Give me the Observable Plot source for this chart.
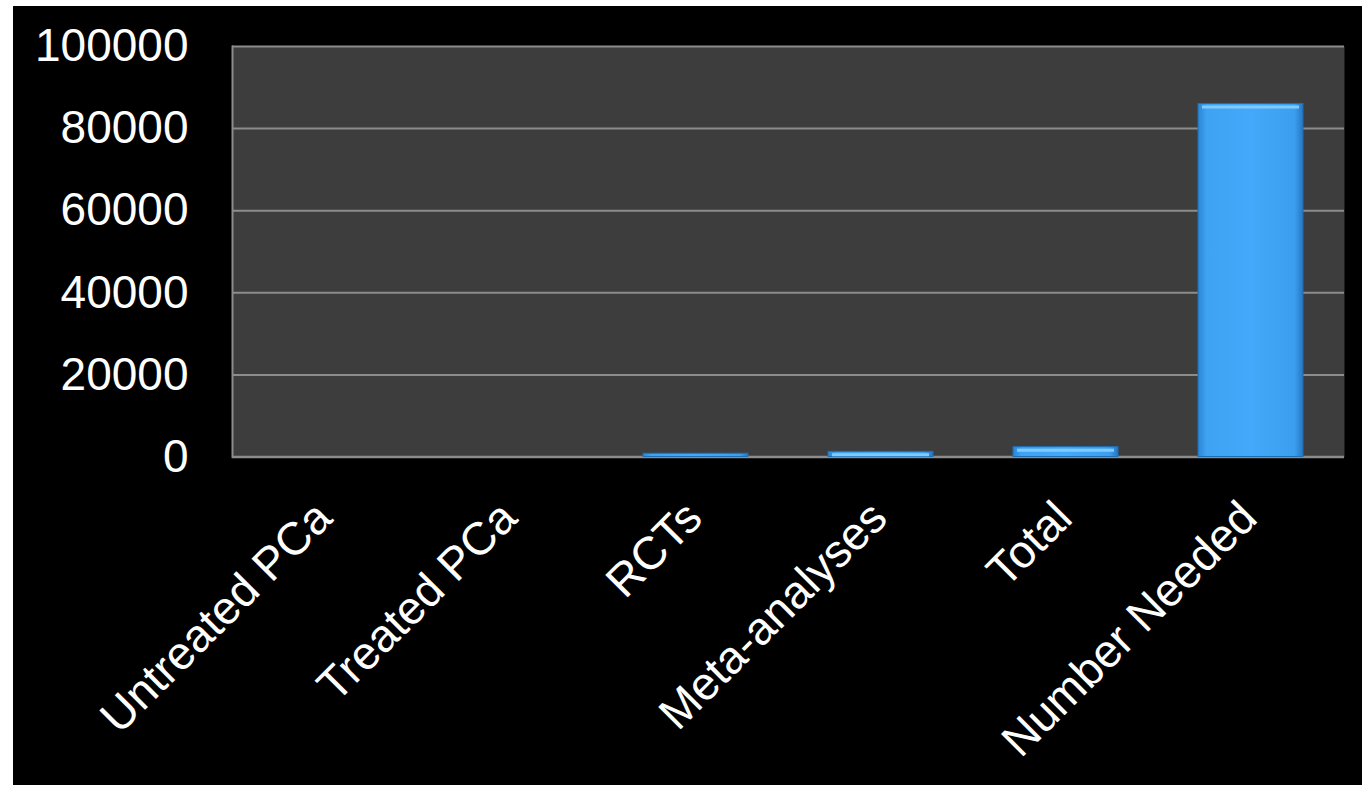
<!DOCTYPE html>
<html>
<head>
<meta charset="utf-8">
<script src="https://cdn.jsdelivr.net/npm/d3@7"></script>
<script src="https://cdn.jsdelivr.net/npm/@observablehq/plot@0.6"></script>
<style>
  html, body { margin: 0; padding: 0; background: #ffffff; }
  #chart { position: absolute; left: 13px; top: 6px; }
  #chart svg { display: block; background: #000000; }
</style>
</head>
<body>
<div id="chart"></div>
<script>
const categories = ["Untreated PCa", "Treated PCa", "RCTs", "Meta-analyses", "Total", "Number Needed"];
const values = [0, 0, 800, 1250, 2400, 86000];
const yTicks = [0, 20000, 40000, 60000, 80000, 100000];

const data = categories.map((c, i) => ({category: c, value: values[i]}));

const font = "'Liberation Sans', Arial, Helvetica, sans-serif";

const chart = Plot.plot({
  width: 1349,
  height: 779,
  marginLeft: 219,
  marginTop: 40,
  marginRight: 18,
  marginBottom: 328.5,
  style: {background: "#000000", color: "#ffffff", fontFamily: font},
  x: {domain: categories, paddingInner: 0.43, paddingOuter: 0.215, axis: null},
  y: {domain: [0, 100000], axis: null},
  marks: [
    Plot.frame({fill: "#3d3d3d", stroke: null}),
    Plot.ruleY(yTicks.filter(d => d > 0), {stroke: "#8c8c8c", strokeWidth: 2}),
    Plot.frame({anchor: "left", stroke: "#8c8c8c", strokeWidth: 2}),
    Plot.ruleY([0], {stroke: "#8c8c8c", strokeWidth: 2.5}),
    Plot.barY(data, {x: "category", y: "value", fill: "url(#barGrad)", stroke: "#1f6fb5", strokeWidth: 1}),
    Plot.tickY(data.filter(d => d.value > 1000), {x: "category", y: "value", stroke: "#7fcbff",
      strokeWidth: 3, dy: 3, insetLeft: 4, insetRight: 4}),
    Plot.axisY({ticks: yTicks, tickFormat: "d", tickSize: 0, tickPadding: 44, fontSize: 46,
      fill: "#ffffff", label: null}),
    Plot.text(categories, {x: d => d, frameAnchor: "bottom", dx: -2, dy: 53, rotate: -45,
      textAnchor: "end", lineAnchor: "middle", fontSize: 46, fill: "#ffffff"})
  ]
});

const svg = d3.select(chart);
const defs = svg.insert("defs", ":first-child");
const g = defs.append("linearGradient").attr("id", "barGrad")
  .attr("x1", "0").attr("x2", "1").attr("y1", "0").attr("y2", "0");
g.append("stop").attr("offset", "0").attr("stop-color", "#2a86d4");
g.append("stop").attr("offset", "0.08").attr("stop-color", "#3fa2f2");
g.append("stop").attr("offset", "0.5").attr("stop-color", "#44a9fa");
g.append("stop").attr("offset", "0.92").attr("stop-color", "#3c9eee");
g.append("stop").attr("offset", "1").attr("stop-color", "#2577c2");

document.getElementById("chart").appendChild(chart);
</script>
</body>
</html>
